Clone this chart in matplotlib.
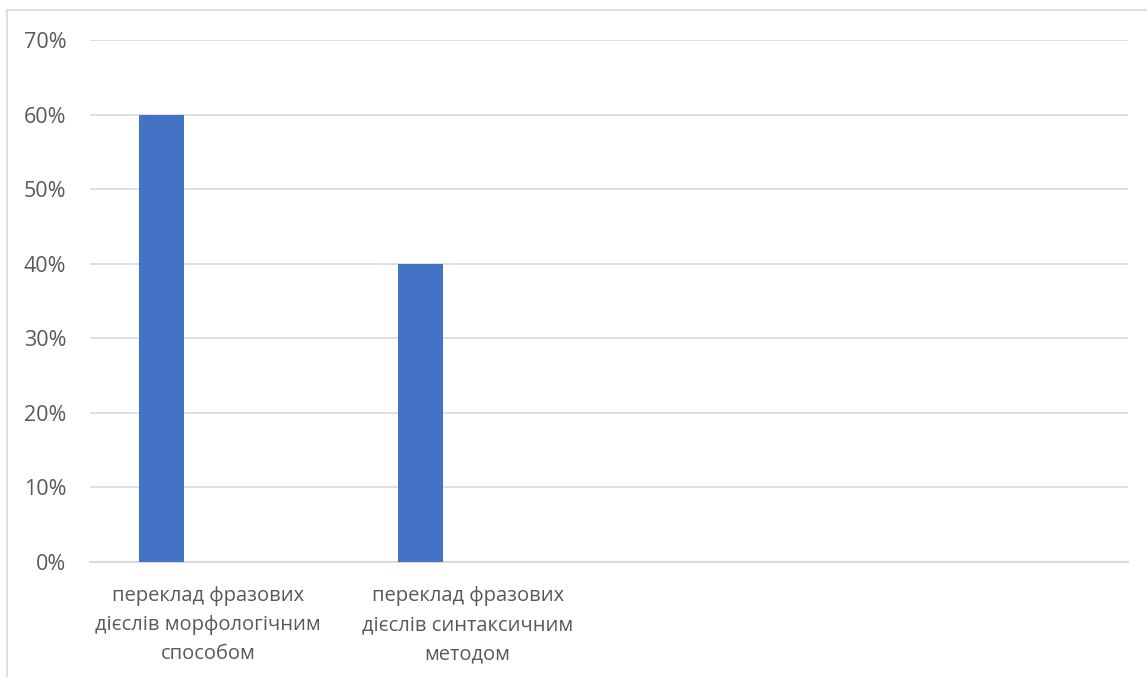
import matplotlib.pyplot as plt
from matplotlib.lines import Line2D
import numpy as np

# categories (Excel chart had 4 slots, only two labelled)
categories = [
    "переклад фразових\nдієслів морфологічним\nспособом",
    "переклад фразових\nдієслів синтаксичним\nметодом",
    "",
    "",
]
values = [0.60, 0.40, 0.0, 0.0]
y_ticks = [0.0, 0.1, 0.2, 0.3, 0.4, 0.5, 0.6, 0.7]

bar_color = "#4472C4"
grid_color = "#D9D9D9"
text_color = "#595959"

plt.rcParams['font.family'] = ['Open Sans', 'DejaVu Sans']

fig = plt.figure(figsize=(11.47, 6.77), dpi=100)
ax = fig.add_axes([0.0785, 0.1699, 0.9049, 0.7710])

x = np.arange(len(categories))
ax.bar(x - 0.225, values, width=0.173, color=bar_color, zorder=3)

ax.set_xlim(-0.5, len(categories) - 0.5)
ax.set_ylim(0, 0.7)
ax.set_yticks(y_ticks)
ax.set_yticklabels([f"{int(round(v * 100))}%" for v in y_ticks])
ax.yaxis.grid(True, color=grid_color, linewidth=1.2, zorder=0)

ax.set_xticks(x - 0.045)
ax.set_xticklabels(categories, linespacing=1.62)
ax.tick_params(axis='both', length=0, colors=text_color)
ax.tick_params(axis='x', labelsize=14.5, pad=17)
ax.tick_params(axis='y', labelsize=15.5, pad=17)

for side in ['top', 'right', 'left']:
    ax.spines[side].set_visible(False)
ax.spines['bottom'].set_color(grid_color)
ax.spines['bottom'].set_linewidth(1.4)

# outer chart border (only top and left visible in the crop)
fig.add_artist(Line2D([7 / 1147, 1.0], [1 - 10 / 677, 1 - 10 / 677],
                      transform=fig.transFigure, color=grid_color, linewidth=1.2))
fig.add_artist(Line2D([7 / 1147, 7 / 1147], [0.0, 1 - 10 / 677],
                      transform=fig.transFigure, color=grid_color, linewidth=1.2))

fig.savefig("out.png", dpi=100, facecolor="white")
